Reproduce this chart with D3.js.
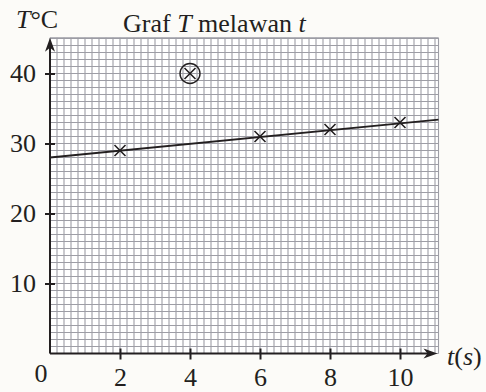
<!DOCTYPE html>
<html>
<head>
<meta charset="utf-8">
<script src="https://cdn.jsdelivr.net/npm/d3@7"></script>
<style>
  html, body { margin: 0; padding: 0; background: #fcfbf8; }
  svg { display: block; }
  text { font-family: "Liberation Serif", "Times New Roman", serif; fill: #231f20; }
</style>
</head>
<body>
<svg id="chart" width="486" height="392"></svg>
<script>
// readings
var tValues = [2, 4, 6, 8, 10];
var TValues = [29, 40, 31, 32, 33];
var outlier = [false, true, false, false, false];
// best fit line, read at both ends of the grid
var fitT = [0, 11.1];
var fitTemp = [28, 33.4];
var xTicks = [2, 4, 6, 8, 10];
var yTicks = [10, 20, 30, 40];

var svg = d3.select("#chart");
var ink = "#231f20";
var fs = 26;

var x = d3.scaleLinear().domain([0, 11.1]).range([50, 438.5]);
var y = d3.scaleLinear().domain([0, 45.1]).range([353.5, 37.8]);

// graph paper
svg.append("rect").attr("x", x(0)).attr("y", y(45.1))
	.attr("width", x(11.1) - x(0)).attr("height", y(0) - y(45.1))
	.attr("fill", "#ffffff");

var grid = svg.append("g").attr("class", "grid");
grid.selectAll("line.v").data(d3.range(0, 56).map(function(i){ return i * 0.2; }).concat([11.1]))
	.enter().append("line")
	.attr("x1", function(d){ return x(d); }).attr("x2", function(d){ return x(d); })
	.attr("y1", y(0)).attr("y2", y(45.1))
	.attr("stroke", "#9d9da5").attr("stroke-width", 1.1);
grid.selectAll("line.h").data(d3.range(0, 46).concat([45.1]))
	.enter().append("line")
	.attr("y1", function(d){ return y(d); }).attr("y2", function(d){ return y(d); })
	.attr("x1", x(0)).attr("x2", x(11.1))
	.attr("stroke", "#9d9da5").attr("stroke-width", 1.1);

// axes
var xAxis = svg.append("g").attr("transform", "translate(0," + y(0) + ")")
	.call(d3.axisBottom(x).tickValues(xTicks).tickSize(5).tickPadding(9.5));
xAxis.select(".domain").remove();
xAxis.selectAll(".tick line").attr("y1", -5).attr("y2", 6).attr("stroke", ink).attr("stroke-width", 2);
xAxis.selectAll(".tick text").attr("font-size", fs).attr("fill", ink)
	.style("font-family", '"Liberation Serif", serif');

var yAxis = svg.append("g").attr("transform", "translate(" + x(0) + ",0)")
	.call(d3.axisLeft(y).tickValues(yTicks).tickSize(5).tickPadding(9));
yAxis.select(".domain").remove();
yAxis.selectAll(".tick line").attr("x1", -5).attr("x2", 5).attr("stroke", ink).attr("stroke-width", 2);
yAxis.selectAll(".tick text").attr("font-size", fs).attr("fill", ink)
	.style("font-family", '"Liberation Serif", serif');

svg.append("line").attr("x1", x(0)).attr("x2", x(11.1) - 8)
	.attr("y1", y(0)).attr("y2", y(0)).attr("stroke", ink).attr("stroke-width", 2);
svg.append("line").attr("x1", x(0)).attr("x2", x(0))
	.attr("y1", y(0)).attr("y2", y(45.1) + 8).attr("stroke", ink).attr("stroke-width", 2);

// arrow heads
svg.append("path")
	.attr("d", "M" + (x(11.1) - 1) + "," + y(0) + " l-14,-5 l4,5 l-4,5 z")
	.attr("fill", ink);
svg.append("path")
	.attr("d", "M" + x(0) + "," + (y(45.1)) + " l-5,14 l5,-4 l5,4 z")
	.attr("fill", ink);

// line of best fit
svg.append("line")
	.attr("x1", x(fitT[0])).attr("y1", y(fitTemp[0]))
	.attr("x2", x(fitT[1])).attr("y2", y(fitTemp[1]))
	.attr("stroke", ink).attr("stroke-width", 1.8);

// points
var pts = svg.selectAll("g.pt").data(tValues).enter().append("g")
	.attr("transform", function(d, i){ return "translate(" + x(d) + "," + y(TValues[i]) + ")"; });
pts.append("path").attr("d", "M-5.5,-5.5L5.5,5.5M-5.5,5.5L5.5,-5.5")
	.attr("stroke", ink).attr("stroke-width", 1.6).attr("fill", "none");
pts.filter(function(d, i){ return outlier[i]; })
	.append("circle").attr("r", 10)
	.attr("fill", "none").attr("stroke", ink).attr("stroke-width", 1.4);

// labels
svg.append("text").attr("x", 41).attr("y", 382).attr("text-anchor", "middle")
	.attr("font-size", fs).text("0");

var yLab = svg.append("text").attr("x", 16).attr("y", 28).attr("font-size", fs);
yLab.append("tspan").attr("font-style", "italic").text("T");
yLab.append("tspan").text("°C");

var title = svg.append("text").attr("x", 123).attr("y", 32).attr("font-size", fs);
title.append("tspan").text("Graf ");
title.append("tspan").attr("font-style", "italic").text("T");
title.append("tspan").text(" melawan ");
title.append("tspan").attr("font-style", "italic").text("t");

var xLab = svg.append("text").attr("x", 447).attr("y", 365).attr("font-size", fs);
xLab.append("tspan").attr("font-style", "italic").text("t");
xLab.append("tspan").text("(");
xLab.append("tspan").attr("font-style", "italic").text("s");
xLab.append("tspan").text(")");
</script>
</body>
</html>
